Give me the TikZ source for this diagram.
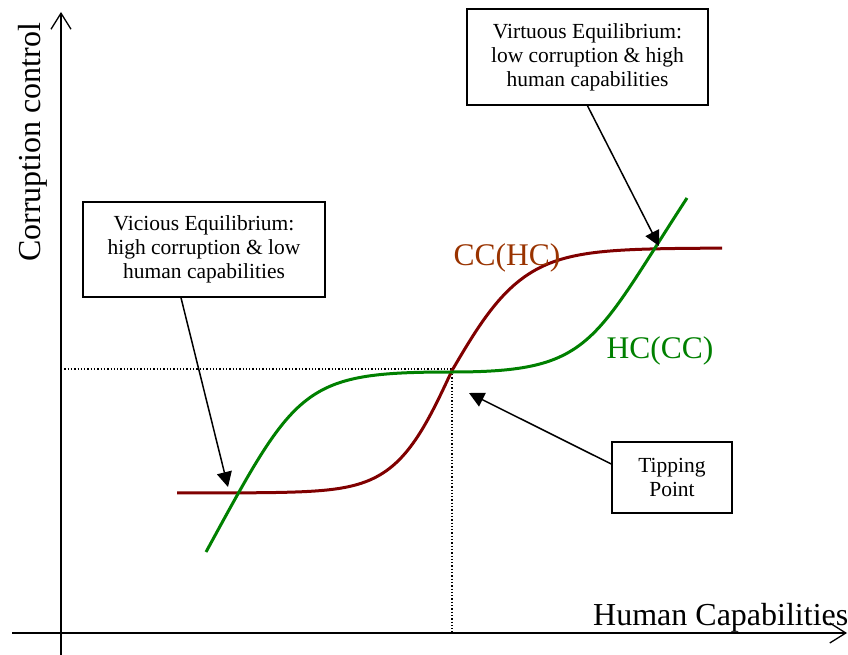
\documentclass[tikz,border=0pt]{standalone}
\usepackage{fontspec}
\setmainfont{Liberation Serif}
\usetikzlibrary{arrows.meta,positioning}
\definecolor{ccred}{RGB}{128,0,0}
\definecolor{cclabel}{RGB}{153,51,0}
\definecolor{hcgreen}{RGB}{0,128,0}

\begin{document}
\begin{tikzpicture}[
		x=1pt, y=-1pt,
		box/.style={draw, line width=1.6pt, rectangle, fill=white, align=center, inner sep=0pt, font=\fontsize{21.5}{24}\selectfont},
		axis/.style={line width=1.3pt, -{Straight Barb[length=16pt,width=20pt,line width=1.3pt]}},
		pointer/.style={line width=1.5pt, -{Triangle[length=15pt,width=15pt]}},
		curve/.style={line width=3pt, line join=round},
		guide/.style={line width=1.3pt, dotted},
		biglabel/.style={font=\fontsize{32}{38}\selectfont, inner sep=0pt},
		curvelabel/.style={font=\fontsize{31.5}{38}\selectfont, inner sep=0pt},
	]
		\useasboundingbox (0,0) rectangle (848,655);

		% axes
		\coordinate (ybot) at (61,655);
		\coordinate (ytop) at (61,12);
		\coordinate (xleft) at (12,633);
		\coordinate (xright) at (847,633);
		\draw[axis] (ybot) -- (ytop);
		\draw[axis] (xleft) -- (xright);
		\node[biglabel, anchor=base west] (xlab) at (593,625) {Human Capabilities};
		\node[biglabel, anchor=base west, rotate=90] (ylab) at (40,262) {Corruption control};

		% tipping point guides
		\coordinate (tp) at (452,369);
		\draw[guide] (tp -| ybot) -- (tp) -- (tp |- xleft);

		% curves
		\draw[curve, ccred, samples=120, domain=177:452] plot (\x, {370.5-122.5*tanh((\x-452)/57)});
		\draw[curve, ccred, samples=120, domain=452:722] plot (\x, {370.5-122.5*tanh((\x-452)/72)});
		\draw[curve, hcgreen] (206,552) .. controls (296,387) and (302,372) .. (452,372)
			.. controls (592,372) and (592,344) .. (687,198);
		\node[curvelabel, cclabel, anchor=base] (cc) at (507,265) {CC(HC)};
		\node[curvelabel, hcgreen, anchor=base] (hc) at (660,358) {HC(CC)};

		% callouts
		\node[box, minimum width=241pt, minimum height=96pt] (vir) at (587.5,57) {Virtuous Equilibrium:\\low corruption \& high\\human capabilities};
		\node[box, minimum width=242pt, minimum height=95pt] (vic) at (204,249.5) {Vicious Equilibrium:\\high corruption \& low\\human capabilities};
		\node[box, minimum width=120pt, minimum height=71pt] (tip) at (672,477.5) {Tipping\\Point};
		\coordinate (virpt) at (659,246);
		\coordinate (vicpt) at (228,487);
		\coordinate (tippt) at (469,393);
		\draw[pointer] (vir.south) -- (virpt);
		\draw[pointer] ([xshift=-23pt]vic.south) -- (vicpt);
		\draw[pointer] ([yshift=13.5pt]tip.west) -- (tippt);
\end{tikzpicture}
\end{document}
